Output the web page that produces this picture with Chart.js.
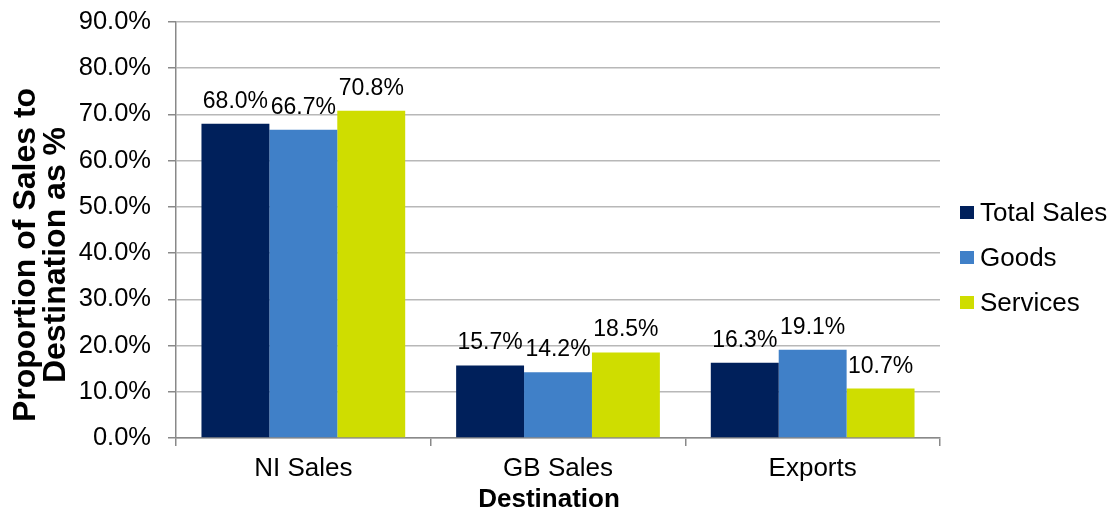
<!DOCTYPE html>
<html><head><meta charset="utf-8">
<script src="https://cdn.jsdelivr.net/npm/chart.js@4"></script>
<style>html,body{margin:0;padding:0;background:#fff}#wrap{width:1119px;height:512px;position:relative}</style>
</head><body><div id="wrap"><canvas id="c" width="1119" height="512"></canvas></div>
<script>
const categories = ['NI Sales', 'GB Sales', 'Exports'];
const seriesNames = ['Total Sales', 'Goods', 'Services'];
const totalSales = [68.0, 15.7, 16.3];
const goods = [66.7, 14.2, 19.1];
const services = [70.8, 18.5, 10.7];
const yTicks = [0, 10, 20, 30, 40, 50, 60, 70, 80, 90];
const yTitleLines = ['Proportion of Sales to', 'Destination as %'];
const xTitle = 'Destination';

const colors = ['#00205B', '#4080C8', '#CFDD00'];
const FONT = '"Liberation Sans", Arial, Helvetica, sans-serif';

const extras = {
  id: 'extras',
  afterDatasetsDraw(chart) {
    const ctx = chart.ctx;
    ctx.save();
    ctx.font = '23px ' + FONT;
    ctx.fillStyle = '#000';
    ctx.textAlign = 'center';
    ctx.textBaseline = 'alphabetic';
    chart.data.datasets.forEach((ds, i) => {
      chart.getDatasetMeta(i).data.forEach((bar, j) => {
        ctx.fillText(ds.data[j].toFixed(1) + '%', bar.x, bar.y - 16);
      });
    });
    ctx.restore();
  },
  afterDraw(chart) {
    const ctx = chart.ctx;
    // Y axis title
    ctx.save();
    ctx.fillStyle = '#000';
    ctx.font = 'bold 32px ' + FONT;
    ctx.textAlign = 'center';
    ctx.textBaseline = 'alphabetic';
    ctx.translate(35, 255);
    ctx.rotate(-Math.PI / 2);
    ctx.fillText(yTitleLines[0], 0, 0);
    ctx.fillText(yTitleLines[1], 0, 30);
    ctx.restore();
    // X axis title
    ctx.save();
    ctx.fillStyle = '#000';
    ctx.font = 'bold 26px ' + FONT;
    ctx.textAlign = 'center';
    ctx.textBaseline = 'alphabetic';
    ctx.fillText(xTitle, 549, 507);
    ctx.restore();
    // Legend
    ctx.save();
    ctx.font = '26px ' + FONT;
    ctx.textAlign = 'left';
    ctx.textBaseline = 'alphabetic';
    chart.data.datasets.forEach((ds, i) => {
      const base = 221 + 45 * i;
      ctx.fillStyle = ds.backgroundColor;
      ctx.fillRect(960, base - 15, 14, 13);
      ctx.fillStyle = '#000';
      ctx.fillText(ds.label, 980, base);
    });
    ctx.restore();
  }
};

new Chart(document.getElementById('c'), {
  type: 'bar',
  data: {
    labels: categories,
    datasets: [
      { label: seriesNames[0], data: totalSales, backgroundColor: colors[0] },
      { label: seriesNames[1], data: goods, backgroundColor: colors[1] },
      { label: seriesNames[2], data: services, backgroundColor: colors[2] }
    ]
  },
  options: {
    responsive: false,
    devicePixelRatio: 1,
    animation: false,
    layout: { padding: { top: 22, right: 179, left: 0, bottom: 0 } },
    datasets: { bar: { categoryPercentage: 0.8, barPercentage: 1.0 } },
    plugins: { legend: { display: false }, tooltip: { enabled: false } },
    scales: {
      x: {
        afterFit: s => { s.height = 74; s.paddingLeft = 0; s.paddingRight = 0; },
        grid: { display: true, drawOnChartArea: false, offset: true, tickLength: 8, tickColor: '#898989', lineWidth: 1.5 },
        border: { color: '#898989', width: 1.5 },
        ticks: { color: '#000', font: { family: FONT, size: 26 }, padding: 7, maxRotation: 0 }
      },
      y: {
        min: 0, max: 90,
        afterFit: s => { s.width = 176; s.paddingTop = 0; s.paddingBottom = 0; },
        afterBuildTicks: s => { s.ticks = yTicks.map(v => ({ value: v })); },
        grid: { color: '#b8b8b8', lineWidth: 1.5, tickLength: 8, tickColor: '#898989' },
        border: { color: '#898989', width: 1.5 },
        ticks: { color: '#000', font: { family: FONT, size: 25.5 }, padding: 17,
          callback: v => Number(v).toFixed(1) + '%' }
      }
    }
  },
  plugins: [extras]
});
</script></body></html>
